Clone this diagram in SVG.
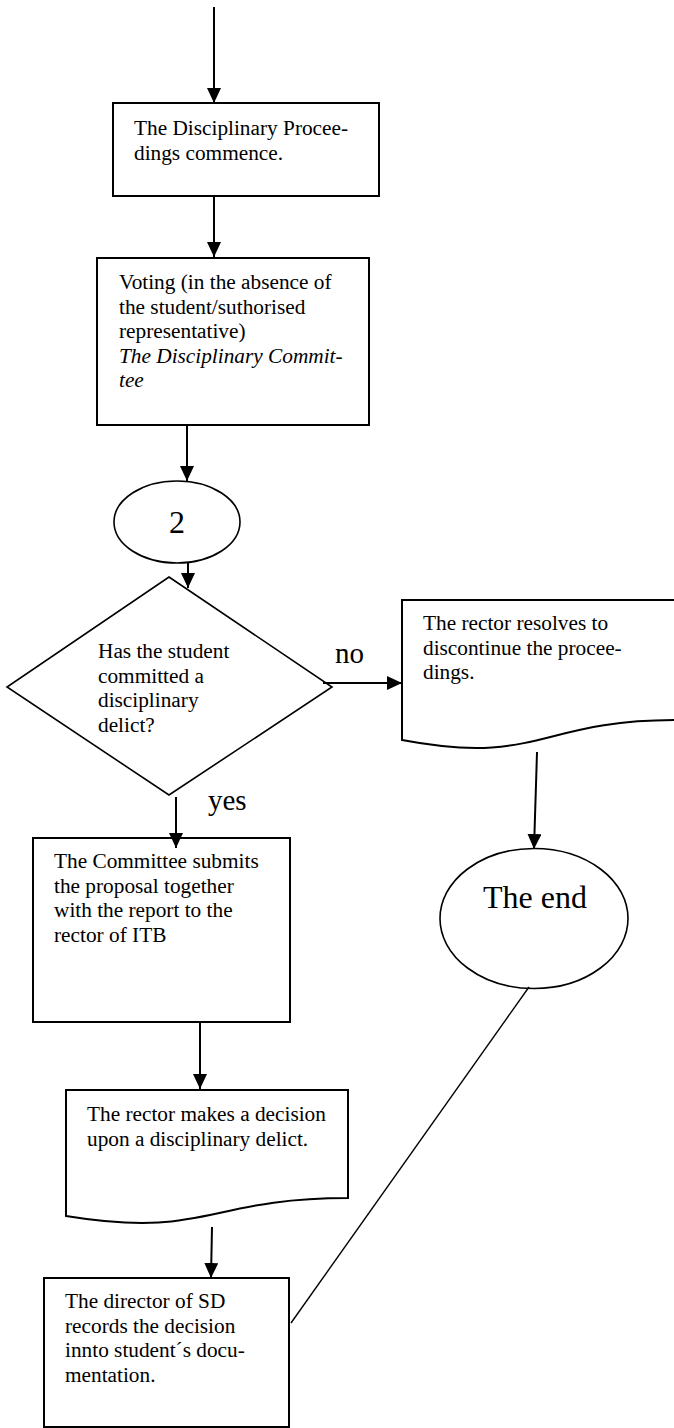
<svg xmlns="http://www.w3.org/2000/svg" width="674" height="1428" viewBox="0 0 674 1428">
<style>
  .box { fill: #fff; stroke: #000; stroke-width: 2; }
  .thin { fill: #fff; stroke: #000; stroke-width: 1.6; }
  .t { font-family: "Liberation Serif", "Times New Roman", serif; font-size: 21.3px; fill: #000; }
  .it { font-style: italic; }
  .big { font-family: "Liberation Serif", "Times New Roman", serif; font-size: 32px; fill: #000; text-anchor: middle; }
  .lbl { font-family: "Liberation Serif", "Times New Roman", serif; font-size: 29px; fill: #000; }
  .conn { fill: none; stroke: #000; stroke-width: 2; }
</style>
<defs>
  <marker id="arr" markerUnits="userSpaceOnUse" markerWidth="16" markerHeight="15" refX="15" refY="7" orient="auto">
    <path d="M0,0 L15,7 L0,14 Z" fill="#000"/>
  </marker>
</defs>
<rect width="674" height="1428" fill="#fff"/>

<g id="n1">
  <rect class="box" x="113" y="103" width="266" height="93"/>
  <text class="t" x="134" y="135">The Disciplinary Procee-</text>
  <text class="t" x="134" y="159.5">dings commence.</text>
</g>

<g id="n2">
  <rect class="box" x="97" y="258" width="272" height="167"/>
  <text class="t" x="119" y="289">Voting (in the absence of</text>
  <text class="t" x="119" y="313.5">the student/suthorised</text>
  <text class="t" x="119" y="338">representative)</text>
  <text class="t it" x="119" y="362.5">The Disciplinary Commit-</text>
  <text class="t it" x="119" y="387">tee</text>
</g>

<g id="n3">
  <ellipse class="thin" cx="177" cy="522" rx="63" ry="41"/>
  <text class="big" x="177" y="533">2</text>
</g>

<g id="n4">
  <polygon class="thin" points="169,577 332,687 169,795 7,687"/>
  <text class="t" x="98" y="658">Has the student</text>
  <text class="t" x="98" y="682.5">committed a</text>
  <text class="t" x="98" y="707">disciplinary</text>
  <text class="t" x="98" y="731.5">delict?</text>
</g>

<g id="n5">
  <path class="box" d="M402,600 L676,600 L676,720 C539,720 539,766 402,740 Z"/>
  <text class="t" x="423" y="630">The rector resolves to</text>
  <text class="t" x="423" y="654.5">discontinue the procee-</text>
  <text class="t" x="423" y="679">dings.</text>
</g>

<g id="n6">
  <ellipse class="thin" cx="534" cy="918.5" rx="94" ry="70"/>
  <text class="big" x="535" y="908">The end</text>
</g>

<g id="n7">
  <rect class="box" x="33" y="838" width="257" height="184"/>
  <text class="t" x="54" y="868">The Committee submits</text>
  <text class="t" x="54" y="892.5">the proposal together</text>
  <text class="t" x="54" y="917">with the report to the</text>
  <text class="t" x="54" y="941.5">rector of ITB</text>
</g>

<g id="n8">
  <path class="box" d="M66,1090 L348,1090 L348,1198 C207,1198 207,1239 66,1216 Z"/>
  <text class="t" x="87" y="1121">The rector makes a decision</text>
  <text class="t" x="87" y="1145.5">upon a disciplinary delict.</text>
</g>

<g id="n9">
  <rect class="box" x="44" y="1278" width="245" height="149"/>
  <text class="t" x="65" y="1308">The director of SD</text>
  <text class="t" x="65" y="1332.5">records the decision</text>
  <text class="t" x="65" y="1357">innto student´s docu-</text>
  <text class="t" x="65" y="1381.5">mentation.</text>
</g>

<g id="connectors">
  <line class="conn" x1="214" y1="7" x2="214" y2="103" marker-end="url(#arr)"/>
  <line class="conn" x1="214" y1="196" x2="214" y2="257" marker-end="url(#arr)"/>
  <line class="conn" x1="187" y1="425" x2="187" y2="481" marker-end="url(#arr)"/>
  <line class="conn" x1="188" y1="563" x2="188" y2="588" marker-end="url(#arr)"/>
  <line class="conn" x1="323" y1="683" x2="402" y2="683" marker-end="url(#arr)"/>
  <line class="conn" x1="537" y1="752" x2="534" y2="849" marker-end="url(#arr)"/>
  <line class="conn" x1="176" y1="797" x2="176" y2="848" marker-end="url(#arr)"/>
  <line class="conn" x1="200" y1="1022" x2="200" y2="1089" marker-end="url(#arr)"/>
  <line class="conn" x1="212" y1="1227" x2="211" y2="1278" marker-end="url(#arr)"/>
  <line x1="529" y1="987" x2="291" y2="1323" stroke="#000" stroke-width="1.4"/>
  <text class="lbl" x="335" y="663">no</text>
  <text class="lbl" x="208" y="810">yes</text>
</g>
</svg>
